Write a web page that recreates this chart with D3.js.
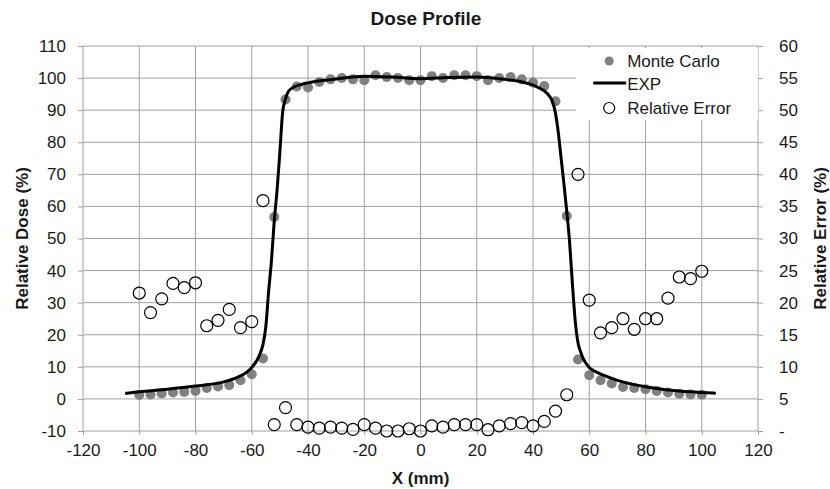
<!DOCTYPE html>
<html>
<head>
<meta charset="utf-8">
<script src="https://cdn.jsdelivr.net/npm/d3@7"></script>
<style>
  body { margin: 0; background: #fff; }
  text { font-family: "Liberation Sans", Arial, sans-serif; }
</style>
</head>
<body>
<div id="dose_chart"></div>
<script>
// data
var mcX = [-100, -96, -92, -88, -84, -80, -76, -72, -68, -64, -60, -56, -52, -48, -44, -40, -36, -32, -28, -24, -20, -16, -12, -8, -4, 0, 4, 8, 12, 16, 20, 24, 28, 32, 36, 40, 44, 48, 52, 56, 60, 64, 68, 72, 76, 80, 84, 88, 92, 96, 100];
var mcDose = [1.2, 1.4, 1.7, 2.0, 2.2, 2.5, 3.4, 3.9, 4.3, 5.8, 7.7, 12.6, 56.7, 93.3, 97.4, 97.1, 98.8, 99.6, 100.0, 99.6, 99.3, 100.9, 100.3, 100.0, 99.3, 99.3, 100.6, 100.0, 100.9, 100.9, 100.6, 99.3, 100.0, 100.3, 99.6, 98.6, 97.5, 92.8, 57.0, 12.3, 7.4, 5.8, 4.8, 3.7, 3.4, 3.0, 2.5, 2.0, 1.6, 1.4, 1.3];
var relError = [21.5, 18.45, 20.6, 23.0, 22.35, 23.1, 16.4, 17.25, 18.95, 16.1, 17.05, 35.9, 1.0, 3.65, 1.0, 0.6, 0.45, 0.6, 0.45, 0.25, 1.0, 0.45, 0.0, 0.0, 0.35, 0.0, 0.8, 0.6, 1.0, 1.0, 1.0, 0.2, 0.8, 1.15, 1.3, 0.8, 1.5, 3.1, 5.65, 40.0, 20.4, 15.3, 16.1, 17.5, 15.85, 17.5, 17.5, 20.7, 24.0, 23.75, 24.9];

var expX = [-105, -100, -90, -80, -70, -65, -62, -60, -58, -57, -56, -55, -54, -53, -52, -51, -50, -49, -48, -47, -45, -42, -40, -30, -20, -10, 0, 10, 20, 30, 35, 40, 42, 44, 46, 47, 48, 49, 50, 51, 52, 53, 54, 55, 56, 57, 58, 60, 62, 65, 70, 80, 90, 100, 105];
var expDose = [1.7, 2.2, 3.0, 4.0, 5.3, 6.8, 8.2, 9.8, 12.3, 14.2, 17.0, 22.5, 33.5, 43.0, 55.5, 65.0, 77.0, 89.5, 93.5, 95.8, 97.2, 98.1, 98.5, 99.7, 100.6, 100.3, 99.8, 100.2, 100.3, 99.6, 99.0, 97.8, 97.0, 96.0, 94.2, 92.5, 89.0, 83.0, 75.0, 67.0, 58.5, 49.0, 36.0, 24.5, 17.5, 14.5, 12.3, 9.8, 8.6, 7.4, 5.8, 3.8, 2.6, 2.0, 1.8];

var xTicks = [-120, -100, -80, -60, -40, -20, 0, 20, 40, 60, 80, 100, 120];
var doseTicks = [-10, 0, 10, 20, 30, 40, 50, 60, 70, 80, 90, 100, 110];
var errTicks = [0, 5, 10, 15, 20, 25, 30, 35, 40, 45, 50, 55, 60];

var legendNames = ["Monte Carlo", "EXP", "Relative Error"];

// set the dimensions and margins of the graph
var margin = {top: 46, right: 72, bottom: 58, left: 83},
    width = 830 - margin.left - margin.right,
    height = 489 - margin.top - margin.bottom;

var svg = d3.select("#dose_chart")
  .append("svg")
    .attr("width", 830)
    .attr("height", 489)
  .append("g")
    .attr("transform", "translate(" + margin.left + "," + margin.top + ")");

var x = d3.scaleLinear().domain([-120, 120]).range([0, width]);
var y = d3.scaleLinear().domain([-10, 110]).range([height, 0]);
var yErr = d3.scaleLinear().domain([0, 60]).range([height, 0]);

var gridColor = "#a0a0a0";
var textColor = "#1a1a1a";

// plain hyphen instead of unicode minus, like the source chart
var plain = function(d) { return String(d); };

// gridlines
svg.append("g")
  .selectAll("line")
  .data(doseTicks)
  .enter()
  .append("line")
    .attr("x1", 0).attr("x2", width)
    .attr("y1", function(d) { return y(d); })
    .attr("y2", function(d) { return y(d); })
    .attr("stroke", gridColor)
    .attr("stroke-width", 1);

svg.append("g")
  .selectAll("line")
  .data(xTicks)
  .enter()
  .append("line")
    .attr("x1", function(d) { return x(d); })
    .attr("x2", function(d) { return x(d); })
    .attr("y1", 0).attr("y2", height)
    .attr("stroke", gridColor)
    .attr("stroke-width", 1);

// axes
var xAxis = svg.append("g")
  .attr("transform", "translate(0," + height + ")")
  .call(d3.axisBottom(x).tickValues(xTicks).tickSize(4).tickPadding(6).tickFormat(plain));

var yAxis = svg.append("g")
  .call(d3.axisLeft(y).tickValues(doseTicks).tickSize(5).tickPadding(12).tickFormat(plain));

var yAxisR = svg.append("g")
  .attr("transform", "translate(" + width + ",0)")
  .call(d3.axisRight(yErr).tickValues(errTicks).tickSize(5).tickPadding(16)
    .tickFormat(function(d) { return d === 0 ? "-" : String(d); }));

[xAxis, yAxis, yAxisR].forEach(function(a) {
  a.select(".domain").remove();
  a.selectAll("line").attr("stroke", gridColor);
  a.selectAll("text")
    .attr("fill", textColor)
    .style("font-size", "17px");
});
xAxis.selectAll("text").attr("dy", "0.9em");

// monte carlo points
svg.append("g")
  .selectAll("circle")
  .data(mcX)
  .enter()
  .append("circle")
    .attr("cx", function(d) { return x(d); })
    .attr("cy", function(d, i) { return y(mcDose[i]); })
    .attr("r", 5)
    .attr("fill", "#808080");

// exp line
svg.append("path")
  .datum(expX)
  .attr("fill", "none")
  .attr("stroke", "#000")
  .attr("stroke-width", 3)
  .attr("stroke-linejoin", "round")
  .attr("d", d3.line()
    .curve(d3.curveMonotoneX)
    .x(function(d) { return x(d); })
    .y(function(d, i) { return y(expDose[i]); })
  );

// relative error points
svg.append("g")
  .selectAll("circle")
  .data(mcX)
  .enter()
  .append("circle")
    .attr("cx", function(d) { return x(d); })
    .attr("cy", function(d, i) { return yErr(relError[i]); })
    .attr("r", 6)
    .attr("fill", "none")
    .attr("stroke", "#000")
    .attr("stroke-width", 1.2);

// legend
var lg = svg.append("g")
  .attr("transform", "translate(" + (x(55) + 1) + ",2)");
lg.append("rect")
  .attr("x", 0).attr("y", 0)
  .attr("width", width - x(55) - 1).attr("height", 72)
  .attr("fill", "#fff");
lg.append("circle").attr("cx", 33).attr("cy", 13).attr("r", 4.5).attr("fill", "#808080");
lg.append("line").attr("x1", 17).attr("x2", 50).attr("y1", 35).attr("y2", 35)
  .attr("stroke", "#000").attr("stroke-width", 3);
lg.append("circle").attr("cx", 33).attr("cy", 60).attr("r", 5.5)
  .attr("fill", "none").attr("stroke", "#000").attr("stroke-width", 1.2);
lg.selectAll("text.lab")
  .data(legendNames)
  .enter()
  .append("text")
    .attr("class", "lab")
    .attr("x", 51)
    .attr("y", function(d, i) { return 13 + i * 23.5; })
    .attr("dy", "0.35em")
    .attr("fill", textColor)
    .style("font-size", "17px")
    .text(function(d) { return d; });

// title and axis labels
var root = d3.select("#dose_chart svg");
root.append("text")
  .attr("x", 426).attr("y", 25)
  .attr("text-anchor", "middle")
  .attr("fill", textColor)
  .style("font-size", "19px").style("font-weight", "bold")
  .text("Dose Profile");

root.append("text")
  .attr("x", margin.left + width / 2).attr("y", 484)
  .attr("text-anchor", "middle")
  .attr("fill", textColor)
  .style("font-size", "17px").style("font-weight", "bold")
  .text("X (mm)");

root.append("text")
  .attr("transform", "translate(28," + (margin.top + height / 2) + ") rotate(-90)")
  .attr("text-anchor", "middle")
  .attr("fill", textColor)
  .style("font-size", "17px").style("font-weight", "bold")
  .text("Relative Dose (%)");

root.append("text")
  .attr("transform", "translate(826," + (margin.top + height / 2) + ") rotate(-90)")
  .attr("text-anchor", "middle")
  .attr("fill", textColor)
  .style("font-size", "17px").style("font-weight", "bold")
  .text("Relative Error (%)");
</script>
</body>
</html>
